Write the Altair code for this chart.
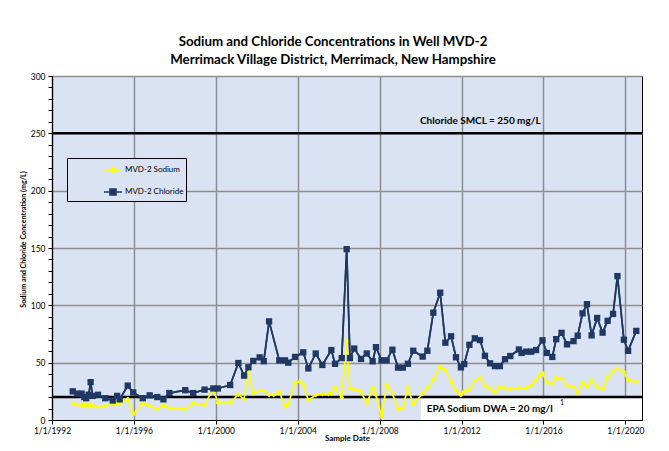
import altair as alt
import pandas as pd

# ---- data ----
dates = [
    "1993/01/05", "1993/03/28", "1993/06/13", "1993/07/30", "1993/09/02", "1993/10/16",
    "1993/11/20", "1993/12/24", "1994/04/01", "1994/08/08", "1994/12/20", "1995/03/08",
    "1995/04/23", "1995/09/13", "1995/12/20", "1996/06/06", "1996/10/08", "1997/02/21",
    "1997/06/10", "1997/09/24", "1998/07/05", "1998/11/24", "1999/06/14", "1999/11/17",
    "2000/02/06", "2000/09/13", "2001/02/06", "2001/05/19", "2001/08/04", "2001/10/30",
    "2002/02/21", "2002/05/05", "2002/08/08", "2002/10/27", "2003/02/06", "2003/05/19",
    "2003/07/16", "2003/11/14", "2004/02/06", "2004/04/08", "2004/07/08", "2004/11/17",
    "2005/03/15", "2005/07/01", "2005/08/22", "2005/10/27", "2006/02/24", "2006/05/23",
    "2006/07/20", "2006/10/05", "2007/02/03", "2007/05/16", "2007/08/29", "2007/10/27",
    "2008/02/03", "2008/05/05", "2008/08/15", "2008/11/24", "2009/02/17", "2009/05/19",
    "2009/08/22", "2010/02/06", "2010/05/01", "2010/08/15", "2010/12/16", "2011/03/18",
    "2011/06/28", "2011/09/24", "2011/12/20", "2012/02/17", "2012/05/19", "2012/08/25",
    "2012/11/24", "2013/02/21", "2013/05/23", "2013/08/18", "2013/11/14", "2014/02/14",
    "2014/05/19", "2014/10/20", "2014/12/06", "2015/02/28", "2015/05/26", "2015/08/22",
    "2015/10/30", "2015/12/14", "2016/03/01", "2016/06/06", "2016/08/15", "2016/11/18",
    "2017/02/24", "2017/06/20", "2017/09/02", "2017/11/28", "2018/02/14", "2018/05/08",
    "2018/08/15", "2018/11/20", "2019/02/18", "2019/05/26", "2019/08/12", "2019/12/05",
    "2020/02/18", "2020/07/13",
]
chloride = [
    25, 23, 23, 20, 19, 22,
    33, 21, 22, 19, 17, 21,
    18, 30, 24, 19, 21.5, 20,
    18, 23.5, 26, 23.5, 26.5, 27.5,
    27.5, 30.5, 49.7, 38.7, 46, 51.5,
    54.6, 51.3, 86, None, 52, 52,
    50, 55, None, 59, 45, 58,
    48, None, 61, 49, 54, 149,
    54, 62.3, 53.3, 58, 51.2, 63.5,
    52, 52, 61.3, 45.7, 45.7, 49,
    60.4, 55.3, 60.4, 93.6, 111, 67.4,
    73, 54.7, 45.9, 48.8, 65.6, 71.2,
    69.7, 56, 49.4, 47, 47, 53,
    55.8, 61.5, 58.5, 59.6, 59.6, 61,
    None, 69.5, 58.5, 55, 70.5, 76,
    66, 68.8, 73.5, 93, 101, 73.8,
    89, 76.2, 86.5, 92.5, 125.5, 70,
    60.3, 77.7,
]
sodium = [
    14.5, 13.4, 12.5, 14, 12.2, 14,
    11.6, 13, 11.6, 12.2, 14, 14,
    14.5, 18.3, 4.9, 14.5, 12.2, 9.6,
    13, 10.2, 9.6, 14.5, 13, 27.6,
    15, 15, 22.3, 18, 43.5, 23.2,
    25.6, 25.6, 21.8, 21.8, 24.7, 11.6,
    14, 32.5, 33.4, 31, 17.4, 21.8,
    22.7, 22.7, 23.2, 28.5, 19.8, 69,
    27.6, 26.7, 24.7, 14.5, 27.6, 21.8,
    3, 30.8, 23.2, 9.3, 10.5, 28.5,
    13.8, 23, 28, 34.9, 46.5, 43.6,
    33.1, 25.6, 21.8, 25, 26.7, 34,
    36.9, 29.9, 27.6, 24.4, 28.8, 28,
    26.5, 28, None, 28, 30, 35,
    39, 41, 32.5, 31.6, 36.5, 36.5,
    30, 29, 23.5, 32.5, 29, 34.8,
    29, 27, 37, 42.8, 45, 41.8,
    34.8, 33.4,
]
series_names = ["MVD-2 Sodium", "MVD-2 Chloride"]
series_colors = ["#FFFF00", "#1F3864"]
limit_values = [250, 20]
x_tick_years = [1992, 1996, 2000, 2004, 2008, 2012, 2016, 2020]
y_tick_values = list(range(0, 301, 10))

rows = []
for d, c, s in zip(dates, chloride, sodium):
    if s is not None:
        rows.append({"date": d, "series": "MVD-2 Sodium", "value": s})
    if c is not None:
        rows.append({"date": d, "series": "MVD-2 Chloride", "value": c})
df = pd.DataFrame(rows)

FONT = "Lato"
BG = "#DAE3F3"
GRID = "#8E8E8E"

xscale = alt.Scale(domain=[alt.DateTime(year=1992, month=1, date=1),
                           alt.DateTime(year=2020, month=10, date=23)])
yscale = alt.Scale(domain=[0, 300], nice=False)

xaxis = alt.Axis(
    values=[alt.DateTime(year=y, month=1, date=1) for y in x_tick_years],
    tickCount=20,
    format="%-m/%-d/%Y", title="Sample Date", grid=True, gridColor=GRID,
    gridWidth=1.5, domainColor="black", domainWidth=1.2, tickColor="black",
    tickSize=4, labelFont=FONT, labelFontSize=8.5, labelColor="black",
    labelPadding=2, titleFont=FONT, titleFontSize=8, titleFontWeight="bold",
    titleColor="black", titlePadding=0, labelFlush=False, labelOverlap=False,
)
yaxis = alt.Axis(
    values=y_tick_values,
    tickCount=40,
    labelExpr="datum.value % 50 === 0 ? datum.label : ''",
    labelOverlap=False,
    gridOpacity={"condition": {"test": "datum.value % 50 === 0 && datum.value > 0", "value": 1}, "value": 0},
    title="Sodium and Chloride Concentration (mg/L)", grid=True, gridColor=GRID,
    gridWidth=1.5, domainColor="black", domainWidth=1.2, tickColor="black",
    tickSize=4, labelFont=FONT, labelFontSize=8.5, labelColor="black",
    labelPadding=3, titleFont=FONT, titleFontSize=7.2, titleFontWeight="bold",
    titleColor="black", titleX=-29, titleY=163, titleAngle=-90,
    titleBaseline="middle", titleAlign="center",
)

base = alt.Chart(df)
X = alt.X("date:T", scale=xscale, axis=xaxis)
Y = alt.Y("value:Q", scale=yscale, axis=yaxis)

# white label box behind the EPA note
box_df = pd.DataFrame({"date": ["2010/01/05"], "date2": ["2020/10/23"],
                       "value": [0], "value2": [19]})
box = alt.Chart(box_df).mark_rect(fill="white").encode(
    x=alt.X("date:T", scale=xscale), x2="date2:T",
    y=alt.Y("value:Q", scale=yscale), y2="value2:Q")

rules_df = pd.DataFrame({"value": limit_values})
rules = alt.Chart(rules_df).mark_rule(color="black", strokeWidth=2.5).encode(
    y=alt.Y("value:Q", scale=yscale))

def series_layers(name, color, shape, size, width):
    sub = base.transform_filter(alt.datum.series == name)
    line = sub.mark_line(color=color, strokeWidth=width).encode(x=X, y=Y)
    pts = sub.mark_point(shape=shape, filled=True, size=size, color=color,
                         opacity=1).encode(x=X, y=Y)
    return line, pts

na_line, na_pts = series_layers("MVD-2 Sodium", "#FFFF00", "diamond", 24, 1.7)
cl_line, cl_pts = series_layers("MVD-2 Chloride", "#1F3864", "square", 40, 1.7)

# legend-only layer (no marks drawn)
sym_paths = ["M-1,0L1,0M0,-0.28L0.28,0L0,0.28L-0.28,0Z",
             "M-1,0L1,0M-0.33,-0.33L0.33,-0.33L0.33,0.33L-0.33,0.33Z"]
cscale = alt.Scale(domain=series_names, range=series_colors)
NB = "\u00a0" * 11
leg = alt.Legend(
    title=None, labelExpr="datum.label + '" + NB + "'",
    orient="none", legendX=15, legendY=82, padding=2, strokeColor="black",
    fillColor=BG, symbolOffset=34, labelFont=FONT, labelFontSize=8,
    labelColor="black", rowPadding=6, symbolSize=324, symbolStrokeWidth=1.6,
    labelOffset=2,
)
legend_layer = base.transform_filter("false").mark_point(
    opacity=1, size=324, strokeWidth=1.6).encode(
    x=X, y=Y,
    fill=alt.Fill("series:N", scale=cscale, legend=leg),
    stroke=alt.Stroke("series:N", scale=cscale, legend=leg),
    shape=alt.Shape("series:N", scale=alt.Scale(domain=series_names, range=sym_paths), legend=leg),
)

text_df = pd.DataFrame({
    "date": ["2009/12/20", "2010/04/20"],
    "value": [260.7, 9.6],
    "label": ["Chloride SMCL = 250 mg/L", "EPA Sodium DWA = 20 mg/l"],
})
texts = alt.Chart(text_df).mark_text(
    align="left", baseline="middle", font=FONT, fontSize=10, fontWeight="bold",
    color="black").encode(
    x=alt.X("date:T", scale=xscale), y=alt.Y("value:Q", scale=yscale), text="label:N")
sup_df = pd.DataFrame({"date": ["2016/10/20"], "value": [14.8], "label": ["1"]})
sup = alt.Chart(sup_df).mark_text(
    align="left", baseline="middle", font=FONT, fontSize=7, color="black").encode(
    x=alt.X("date:T", scale=xscale), y=alt.Y("value:Q", scale=yscale), text="label:N")

chart = alt.layer(
    cl_line.encode(x=X, y=Y), box, rules, na_line, na_pts, cl_line, cl_pts,
    texts, sup, legend_layer,
).properties(
    width=590, height=344, background="white",
    title=alt.TitleParams(
        text=["Sodium and Chloride Concentrations in Well MVD-2",
              "Merrimack Village District, Merrimack, New Hampshire"],
        font=FONT, fontSize=13.3, fontWeight="bold", color="black",
        lineHeight=18, anchor="middle", dx=-14, offset=6),
    autosize=alt.AutoSizeParams(type="none"),
    padding={"left": 44, "top": 68, "right": 19, "bottom": 23},
).configure_view(
    fill=BG, stroke="black", strokeWidth=1
)

chart.save("out.html", embed_options={"renderer": "svg", "actions": False})
